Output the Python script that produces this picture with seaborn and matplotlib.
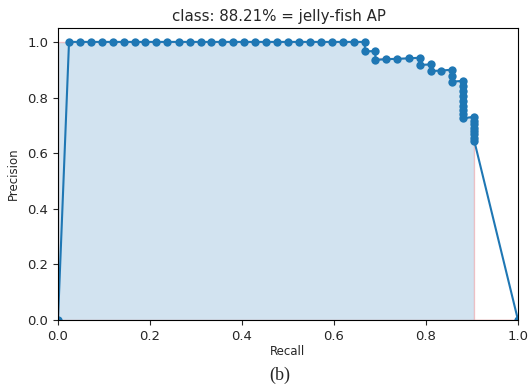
import matplotlib
matplotlib.use("Agg")
import matplotlib.pyplot as plt
import seaborn as sns
import pandas as pd

# precision / recall points
recall = [0.0,
          0.024, 0.048, 0.071, 0.095, 0.119, 0.143, 0.167, 0.190, 0.214, 0.238,
          0.262, 0.286, 0.310, 0.333, 0.357, 0.381, 0.405, 0.429, 0.452, 0.476,
          0.500, 0.524, 0.548, 0.571, 0.595, 0.619, 0.643, 0.667,
          0.667, 0.690, 0.690, 0.714, 0.738, 0.762, 0.786, 0.786, 0.810, 0.810,
          0.833, 0.857, 0.857, 0.857,
          0.881, 0.881, 0.881, 0.881, 0.881, 0.881, 0.881, 0.881, 0.881,
          0.905, 0.905, 0.905, 0.905, 0.905, 0.905, 0.905, 0.905,
          1.0]
precision = [0.0,
             1.0, 1.0, 1.0, 1.0, 1.0, 1.0, 1.0, 1.0, 1.0, 1.0,
             1.0, 1.0, 1.0, 1.0, 1.0, 1.0, 1.0, 1.0, 1.0, 1.0,
             1.0, 1.0, 1.0, 1.0, 1.0, 1.0, 1.0, 1.0,
             0.966, 0.967, 0.935, 0.938, 0.939, 0.941, 0.943, 0.917, 0.919, 0.895,
             0.897, 0.900, 0.878, 0.857,
             0.860, 0.841, 0.822, 0.804, 0.787, 0.771, 0.755, 0.740, 0.725,
             0.731, 0.717, 0.704, 0.691, 0.679, 0.667, 0.655, 0.644,
             0.0]

# interpolated precision envelope (shaded area)
area_recall = [0.0, 0.667, 0.667, 0.690, 0.690, 0.786, 0.786, 0.810, 0.810,
               0.857, 0.857, 0.881, 0.881, 0.905, 0.905, 1.0]
area_precision = [1.0, 1.0, 0.967, 0.967, 0.943, 0.943, 0.919, 0.919, 0.900,
                  0.900, 0.860, 0.860, 0.731, 0.731, 0.0, 0.0]

title = "class: 88.21% = jelly-fish AP"

df = pd.DataFrame({"Recall": recall, "Precision": precision})

sns.set_style("ticks")
plt.rcParams["font.family"] = ["DejaVu Sans"]

fig = plt.figure(figsize=(5.31, 3.86), dpi=100)
ax = fig.add_axes([0.1092, 0.171, 0.8663, 0.7565])

sns.lineplot(data=df, x="Recall", y="Precision", sort=False, estimator=None,
             marker="o", markersize=6, markeredgewidth=0, color="#1f77b4",
             linewidth=1.5, ax=ax)
ax.fill_between(area_recall, 0, area_precision, alpha=0.2, edgecolor="r")

ax.set_xlim(0.0, 1.0)
ax.set_ylim(0.0, 1.05)
ax.set_title(title, fontsize=10.8, pad=5, x=0.48)
ax.set_xlabel("Recall", fontsize=8.5, labelpad=2)
ax.set_ylabel("Precision", fontsize=8.5, labelpad=5)
ax.tick_params(labelsize=9.5)
for s in ax.spines.values():
    s.set_visible(True)
    s.set_color("black")

fig.text(0.527, 0.028, "(b)", ha="center", va="center",
         fontsize=13, family="Liberation Serif")

fig.savefig("out.png", dpi=100)
